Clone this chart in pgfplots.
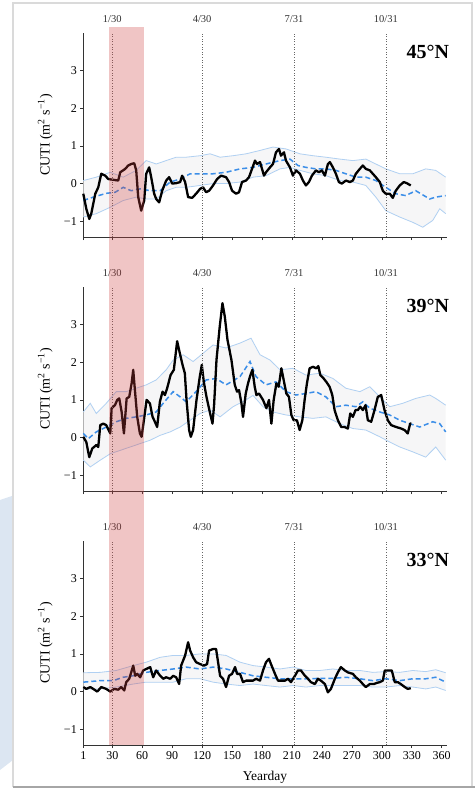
\documentclass[border=0pt]{standalone}
\usepackage{fontspec}
\setmainfont{Liberation Serif}
\usepackage{pgfplots}
\pgfplotsset{compat=1.18}
\definecolor{meanblue}{HTML}{3B8EE8}
\definecolor{boundblue}{HTML}{B0D0F2}
\definecolor{bandgray}{HTML}{F6F6F7}
\definecolor{spanred}{HTML}{D04040}
\definecolor{framegray}{HTML}{DADADA}
\definecolor{wmblue}{HTML}{DCE6F2}
\pgfplotsset{
  cuti/.style={
    width=363.4pt, height=204pt, scale only axis,
    anchor=south west,
    xmin=1, xmax=365, ymin=-1.42, ymax=4,
    axis x line*=bottom, axis y line*=left,
    axis line style={-, line width=0.7pt, black!80},
    xtick={1,30,60,90,120,150,180,210,240,270,300,330,360},
    ytick={-1,0,1,2,3},
    yticklabels={−1,0,1,2,3},
    tick align=outside,
    major tick length=3pt,
    tick style={line width=0.6pt, black!80},
    ticklabel style={font=\fontsize{12}{13}\selectfont},
    ylabel={CUTI (m\textsuperscript{2} s\textsuperscript{−1})},
    ylabel style={font=\fontsize{14}{15}\selectfont, at={(axis description cs:-0.105,0.5)}, anchor=center},
    clip=false,
  },
  obs line/.style={black, line width=2.3pt, line join=round},
  mean line/.style={meanblue, line width=1.5pt, dash pattern=on 5pt off 3pt},
  bound line/.style={boundblue, line width=0.8pt},
  band fill/.style={fill=bandgray, draw=none},
}
\newcommand\monthlines{%
  \draw[dotted, black!60, line width=0.6pt] (axis cs:30,-1.42) -- (axis cs:30,4);
  \draw[dotted, black!60, line width=0.6pt] (axis cs:120,-1.42) -- (axis cs:120,4);
  \draw[dotted, black!60, line width=0.6pt] (axis cs:212,-1.42) -- (axis cs:212,4);
  \draw[dotted, black!60, line width=0.6pt] (axis cs:304,-1.42) -- (axis cs:304,4);
  \node[font=\fontsize{10.5}{11}\selectfont, text=black!80, yshift=14pt] at (axis cs:30,4) {1/30};
  \node[font=\fontsize{10.5}{11}\selectfont, text=black!80, yshift=14pt] at (axis cs:120,4) {4/30};
  \node[font=\fontsize{10.5}{11}\selectfont, text=black!80, yshift=14pt] at (axis cs:212,4) {7/31};
  \node[font=\fontsize{10.5}{11}\selectfont, text=black!80, yshift=14pt] at (axis cs:304,4) {10/31};
}
\newcommand\redspan[2]{%
  \fill[spanred, fill opacity=0.3] (axis cs:27,#1) rectangle (axis cs:61.7,#2);
}
\newcommand\panellabel[1]{%
  \node[font=\bfseries\fontsize{20}{22}\selectfont, anchor=east, xshift=6pt, yshift=-19pt] at (rel axis cs:1,1) {#1};
}
\begin{document}
\begin{tikzpicture}
\path[use as bounding box] (0pt,0pt) rectangle (475pt,-796pt);
% watermark fragment
\fill[wmblue] (0pt,-500pt) -- (44pt,-485pt) -- (44pt,-605pt) -- (13pt,-622pt) -- (13pt,-760pt) -- (0pt,-770pt) -- cycle;
% frame
\fill[white] (13pt,-3pt) rectangle (472pt,-787pt);
\draw[framegray, line width=1.5pt] (13pt,-787pt) -- (13pt,-3pt) -- (472pt,-3pt) -- (472pt,-787pt);
\draw[black!35, line width=2pt] (13pt,-787pt) -- (475pt,-787pt);

% ---------------- 45N ----------------
\begin{axis}[cuti, at={(83.3pt,-237pt)}, xticklabels={}]
\addplot[band fill] coordinates {(1,0.08)(14,0.17)(28,0.3)(41,0.17)(54,0.35)(64,0.61)(74,0.52)(84,0.61)(94,0.7)(104,0.7)(118,0.74)(128,0.79)(138,0.7)(151,0.74)(164,0.79)(178,0.88)(191,0.97)(204,0.92)(218,0.79)(231,0.74)(244,0.7)(258,0.65)(271,0.61)(284,0.65)(294,0.52)(304,0.39)(318,0.26)(331,0.26)(344,0.39)(354,0.35)(364,0.17)
(364,-0.8)(358,-0.67)(351,-0.98)(341,-1.16)(331,-1.03)(318,-0.89)(304,-0.72)(294,-0.36)(284,-0.05)(271,0.04)(258,0.08)(244,0.21)(231,0.26)(218,0.35)(208,0.43)(198,0.39)(184,0.21)(171,0.17)(158,0.04)(144,0)(131,0)(118,-0.05)(104,-0.1)(94,-0.1)(84,-0.19)(74,-0.41)(64,-0.41)(54,-0.36)(41,-0.45)(28,-0.63)(14,-0.8)(1,-0.89)};
\addplot[bound line] coordinates {(1,0.08)(14,0.17)(28,0.3)(41,0.17)(54,0.35)(64,0.61)(74,0.52)(84,0.61)(94,0.7)(104,0.7)(118,0.74)(128,0.79)(138,0.7)(151,0.74)(164,0.79)(178,0.88)(191,0.97)(204,0.92)(218,0.79)(231,0.74)(244,0.7)(258,0.65)(271,0.61)(284,0.65)(294,0.52)(304,0.39)(318,0.26)(331,0.26)(344,0.39)(354,0.35)(364,0.17)};
\addplot[bound line] coordinates {(1,-0.89)(14,-0.8)(28,-0.63)(41,-0.45)(54,-0.36)(64,-0.41)(74,-0.41)(84,-0.19)(94,-0.1)(104,-0.1)(118,-0.05)(131,0)(144,0)(158,0.04)(171,0.17)(184,0.21)(198,0.39)(208,0.43)(218,0.35)(231,0.26)(244,0.21)(258,0.08)(271,0.04)(284,-0.05)(294,-0.36)(304,-0.72)(318,-0.89)(331,-1.03)(341,-1.16)(351,-0.98)(358,-0.67)(364,-0.8)};
\addplot[mean line] coordinates {(1,-0.45)(11,-0.36)(24,-0.26)(33,-0.23)(41,-0.1)(49,-0.19)(58,-0.14)(68,-0.19)(78,-0.19)(88,0.04)(98,0.12)(108,0.26)(118,0.26)(131,0.26)(144,0.3)(158,0.39)(171,0.43)(184,0.52)(198,0.61)(208,0.65)(216,0.48)(224,0.43)(234,0.39)(244,0.39)(254,0.35)(264,0.26)(274,0.17)(284,0.17)(294,0.08)(304,-0.1)(314,-0.27)(324,-0.32)(334,-0.19)(348,-0.41)(354,-0.36)(364,-0.32)};
\addplot[obs line] coordinates {(1,-0.27)(4,-0.67)(7,-0.94)(9,-0.8)(13,-0.27)(16,-0.1)(19,0.26)(23,0.21)(26,0.12)(31,0.1)(36,0.08)(38,0.3)(43,0.39)(46,0.48)(49,0.52)(52,0.54)(54,0.35)(56,-0.36)(59,-0.72)(62,-0.45)(64,0.26)(67,0.43)(69,0.17)(72,-0.27)(74,-0.41)(77,-0.5)(80,-0.19)(84,0.08)(87,0.17)(90,0)(94,0.01)(98,0.04)(100,0.21)(103,0.04)(106,-0.36)(110,-0.38)(114,-0.27)(118,-0.14)(121,-0.1)(124,-0.23)(127,-0.19)(131,-0.05)(135,0.12)(139,0.21)(144,0.17)(147,0.04)(150,-0.19)(154,-0.27)(157,-0.23)(160,0.04)(164,0.08)(167,0.17)(170,0.39)(173,0.61)(175,0.52)(178,0.57)(182,0.21)(184,0.3)(188,0.43)(191,0.52)(194,0.83)(197,0.92)(199,0.74)(202,0.83)(204,0.61)(208,0.43)(211,0.21)(214,0.35)(218,0.26)(221,0.08)(224,-0.05)(227,0.04)(230,0.21)(234,0.35)(237,0.3)(240,0.35)(243,0.21)(246,0.52)(248,0.57)(251,0.43)(254,0.26)(257,0.04)(260,0)(264,0.08)(268,0.04)(271,0.08)(274,0.26)(278,0.39)(281,0.48)(284,0.39)(288,0.35)(291,0.26)(294,0.17)(298,0.04)(301,-0.19)(304,-0.27)(308,-0.27)(311,-0.38)(314,-0.19)(318,-0.05)(322,0.04)(325,0.01)(329,-0.05)};
\monthlines
\redspan{4.16}{-2.09}
\panellabel{45°N}
\end{axis}

% ---------------- 39N ----------------
\begin{axis}[cuti, at={(83.3pt,-491pt)}, xticklabels={}]
\addplot[band fill] coordinates {(1,0.68)(8,0.91)(14,0.64)(24,0.91)(34,1.22)(44,1.22)(54,1.31)(64,1.4)(74,1.53)(84,1.8)(91,2.06)(101,2.2)(111,2.02)(121,2.24)(131,2.46)(144,2.38)(158,2.51)(169,2.64)(178,2.2)(188,2.06)(198,1.8)(211,1.84)(224,1.66)(238,1.71)(251,1.57)(264,1.31)(278,1.22)(288,1.35)(298,1.08)(308,0.82)(321,0.91)(334,1.04)(348,1.13)(354,1.04)(364,0.86)
(364,-0.6)(354,-0.25)(344,-0.52)(331,-0.38)(318,-0.25)(308,-0.12)(298,0.02)(284,0.2)(271,0.24)(258,0.37)(244,0.55)(231,0.51)(218,0.55)(204,0.6)(191,0.68)(181,0.82)(171,1.12)(164,1.0)(151,0.82)(138,0.55)(128,0.73)(118,0.64)(108,0.46)(98,0.28)(88,0.15)(78,0.06)(68,-0.07)(58,-0.16)(48,-0.25)(38,-0.34)(28,-0.43)(18,-0.6)(8,-0.78)(1,-0.6)};
\addplot[bound line] coordinates {(1,0.68)(8,0.91)(14,0.64)(24,0.91)(34,1.22)(44,1.22)(54,1.31)(64,1.4)(74,1.53)(84,1.8)(91,2.06)(101,2.2)(111,2.02)(121,2.24)(131,2.46)(144,2.38)(158,2.51)(169,2.64)(178,2.2)(188,2.06)(198,1.8)(211,1.84)(224,1.66)(238,1.71)(251,1.57)(264,1.31)(278,1.22)(288,1.35)(298,1.08)(308,0.82)(321,0.91)(334,1.04)(348,1.13)(354,1.04)(364,0.86)};
\addplot[bound line] coordinates {(1,-0.6)(8,-0.78)(18,-0.6)(28,-0.43)(38,-0.34)(48,-0.25)(58,-0.16)(68,-0.07)(78,0.06)(88,0.15)(98,0.28)(108,0.46)(118,0.64)(128,0.73)(138,0.55)(151,0.82)(164,1.0)(171,1.12)(181,0.82)(191,0.68)(204,0.6)(218,0.55)(231,0.51)(244,0.55)(258,0.37)(271,0.24)(284,0.2)(298,0.02)(308,-0.12)(318,-0.25)(331,-0.38)(344,-0.52)(354,-0.25)(364,-0.6)};
\addplot[mean line] coordinates {(1,0.11)(6,-0.03)(14,0.15)(24,0.28)(34,0.42)(44,0.51)(54,0.55)(64,0.6)(74,0.68)(81,0.91)(91,1.22)(98,1.08)(104,0.95)(114,1.22)(124,1.53)(134,1.57)(144,1.4)(158,1.62)(168,2.02)(174,1.62)(184,1.4)(194,1.48)(204,1.22)(214,1.13)(224,1.17)(234,1.22)(244,1.08)(254,0.82)(264,0.86)(274,0.82)(281,0.95)(288,0.78)(298,0.68)(308,0.6)(318,0.46)(328,0.37)(338,0.28)(351,0.42)(358,0.37)(364,0.15)};
\addplot[obs line] coordinates {(1,0.02)(4,-0.12)(7,-0.52)(10,-0.29)(14,-0.2)(16,-0.25)(18,0.33)(21,0.37)(24,0.33)(28,0.11)(29.4,0.78)(32.7,0.86)(35,1.0)(37,1.04)(39.4,0.68)(41.7,0.11)(44.4,1.04)(47,1.08)(49.4,1.44)(51,1.8)(52.7,1.26)(55,0.55)(57.7,0.11)(59.4,0.02)(61.7,0.46)(64.4,1.0)(67.7,0.91)(70.4,0.55)(72.7,0.42)(75,0.28)(77.7,0.95)(80.4,1.22)(82.7,1.13)(85,1.31)(88.4,1.66)(91.7,1.8)(95,2.56)(97.7,2.24)(100.4,1.93)(102.7,1.71)(104.4,1.0)(107,0.2)(108.7,0.02)(111,0.2)(114.4,1.0)(117.7,1.62)(119.7,1.93)(121.7,1.48)(124.4,1.08)(127.7,0.68)(130.4,0.37)(132,0.86)(134.4,2.06)(137.7,2.96)(140.4,3.57)(142.7,3.22)(145.4,2.6)(149.4,2.06)(152.7,1.4)(155,1.22)(157,1.26)(159.4,0.91)(161,0.55)(163.7,1.17)(166,1.44)(168.4,1.66)(170.4,1.8)(172.7,1.35)(174.4,1.13)(177,1.17)(181,1.0)(184.4,0.78)(187,1.0)(189.4,0.37)(191.7,1.0)(194.4,1.44)(196.7,1.35)(199.4,1.84)(201.7,1.53)(204.4,1.17)(207,1.08)(209.4,0.6)(211.7,0.46)(215,0.46)(217.7,0.2)(220.4,0.46)(222.7,1.0)(225,1.44)(227.7,1.84)(231,1.88)(234.4,1.84)(236.4,1.9)(238.4,1.66)(241.7,1.57)(244.4,1.48)(247.7,1.35)(250.4,1.13)(252.7,0.73)(256,0.46)(259.4,0.28)(262.7,0.28)(266,0.24)(268.4,0.64)(271,0.55)(273.7,0.73)(276,0.73)(278.4,0.82)(281,0.73)(283.7,0.86)(286,0.46)(289.4,0.42)(292.7,0.73)(296,1.08)(299.4,1.13)(302.7,0.73)(306,0.46)(309.4,0.33)(314.4,0.28)(319.4,0.24)(322.7,0.2)(326,0.11)(328.4,0.37)(329.7,0.37)};
\monthlines
\redspan{4.663}{-2.096}
\panellabel{39°N}
\end{axis}

% ---------------- 33N ----------------
\begin{axis}[cuti, at={(83.3pt,-745pt)},
  xticklabels={1,30,60,90,120,150,180,210,240,270,300,330,360},
  xlabel={Yearday},
  xlabel style={font=\fontsize{13.5}{15}\selectfont, at={(axis description cs:0.5,-0.157)}, anchor=center}]
\addplot[band fill] coordinates {(1,0.5)(18,0.51)(34,0.56)(51,0.69)(64,0.78)(78,0.91)(91,0.96)(104,0.96)(118,1.0)(131,1.0)(144,0.96)(158,0.78)(171,0.69)(184,0.65)(198,0.6)(211,0.65)(224,0.56)(238,0.56)(251,0.6)(264,0.56)(278,0.56)(291,0.51)(304,0.53)(318,0.51)(331,0.56)(344,0.53)(354,0.58)(364,0.5)
(364,0.03)(354,0.12)(344,0.07)(331,0.12)(318,0.16)(304,0.12)(291,0.12)(278,0.16)(264,0.16)(251,0.16)(238,0.16)(224,0.12)(211,0.16)(198,0.12)(184,0.16)(171,0.2)(158,0.16)(144,0.2)(131,0.25)(118,0.34)(104,0.34)(91,0.25)(78,0.25)(64,0.25)(51,0.2)(34,0.12)(18,0.07)(1,0.07)};
\addplot[bound line] coordinates {(1,0.5)(18,0.51)(34,0.56)(51,0.69)(64,0.78)(78,0.91)(91,0.96)(104,0.96)(118,1.0)(131,1.0)(144,0.96)(158,0.78)(171,0.69)(184,0.65)(198,0.6)(211,0.65)(224,0.56)(238,0.56)(251,0.6)(264,0.56)(278,0.56)(291,0.51)(304,0.53)(318,0.51)(331,0.56)(344,0.53)(354,0.58)(364,0.5)};
\addplot[bound line] coordinates {(1,0.07)(18,0.07)(34,0.12)(51,0.2)(64,0.25)(78,0.25)(91,0.25)(104,0.34)(118,0.34)(131,0.25)(144,0.2)(158,0.16)(171,0.2)(184,0.16)(198,0.12)(211,0.16)(224,0.12)(238,0.16)(251,0.16)(264,0.16)(278,0.16)(291,0.12)(304,0.12)(318,0.16)(331,0.12)(344,0.07)(354,0.12)(364,0.03)};
\addplot[mean line] coordinates {(1,0.25)(18,0.29)(31,0.29)(41,0.38)(51,0.42)(64,0.51)(78,0.56)(91,0.6)(104,0.65)(118,0.6)(131,0.65)(144,0.6)(158,0.51)(171,0.42)(184,0.38)(198,0.34)(211,0.34)(224,0.34)(238,0.35)(251,0.35)(264,0.38)(278,0.34)(291,0.29)(304,0.34)(318,0.29)(331,0.34)(344,0.34)(354,0.38)(364,0.25)};
\addplot[obs line] coordinates {(1,0.12)(4,0.07)(8,0.12)(11,0.07)(15,0)(19,0.12)(24,0.07)(28,0)(32,0.07)(36,0.05)(39,0.12)(42,0.03)(44,0.25)(47,0.34)(49,0.51)(51,0.69)(53,0.42)(55,0.47)(58,0.38)(61,0.56)(64,0.6)(68,0.65)(71,0.38)(74,0.56)(78,0.42)(81,0.34)(84,0.38)(88,0.34)(91,0.42)(94,0.38)(97,0.2)(99,0.69)(103,0.96)(106,1.31)(108,1.09)(111,0.91)(114,0.78)(118,0.73)(122,0.69)(125,0.73)(127,1.09)(131,1.13)(134,1.13)(136,0.78)(138,0.42)(141,0.34)(144,0.12)(147,0.42)(150,0.47)(153,0.65)(155,0.47)(158,0.47)(161,0.25)(164,0.29)(168,0.29)(171,0.29)(174,0.34)(178,0.29)(181,0.56)(184,0.78)(187,0.87)(189,0.73)(193,0.47)(196,0.29)(199,0.29)(203,0.29)(206,0.34)(209,0.25)(213,0.42)(216,0.56)(219,0.56)(223,0.42)(226,0.34)(229,0.25)(233,0.2)(236,0.34)(239,0.29)(243,0.2)(246,-0.02)(249,0.07)(253,0.34)(256,0.51)(259,0.65)(263,0.56)(266,0.51)(271,0.47)(274,0.38)(278,0.29)(281,0.2)(284,0.12)(288,0.2)(292,0.2)(295,0.23)(298,0.25)(301,0.29)(303,0.56)(306,0.56)(310,0.56)(313,0.25)(316,0.25)(319,0.2)(323,0.12)(326,0.07)(329,0.09)};
\monthlines
\redspan{4.676}{-1.42}
\panellabel{33°N}
\end{axis}
\end{tikzpicture}
\end{document}
